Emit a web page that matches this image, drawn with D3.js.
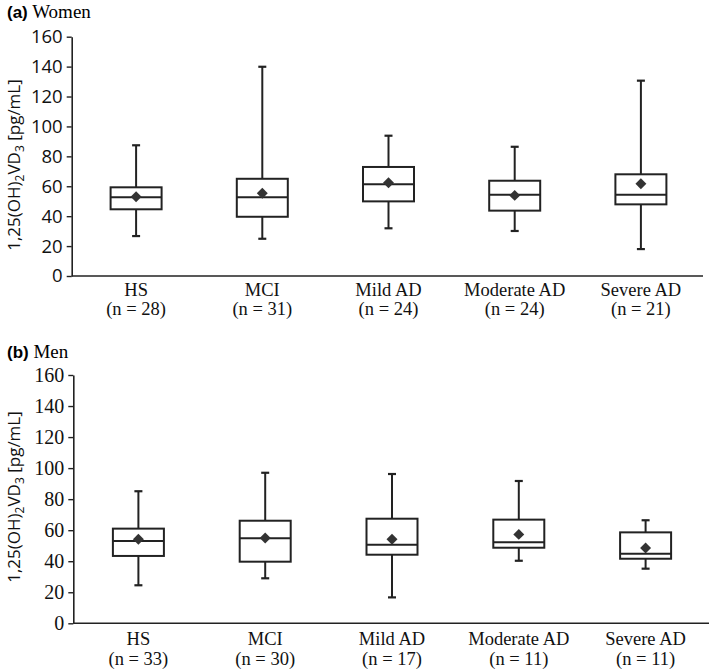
<!DOCTYPE html>
<html>
<head>
<meta charset="utf-8">
<script src="https://cdn.jsdelivr.net/npm/d3@7"></script>
<style>
  html, body { margin: 0; padding: 0; background: #fff; }
  svg { display: block; }
</style>
</head>
<body>
<svg id="chart" width="709" height="672"></svg>
<script>
// ---- Data ----
const categories = ["HS", "MCI", "Mild AD", "Moderate AD", "Severe AD"];
const yTicks = [0, 20, 40, 60, 80, 100, 120, 140, 160];

// Women (panel a)
const womenN      = [28, 31, 24, 24, 21];
const womenMin    = [26.7, 24.9, 31.9, 30.1, 18.0];
const womenQ1     = [44.6, 39.6, 49.9, 43.7, 47.9];
const womenMedian = [52.6, 52.6, 61.3, 54.3, 54.3];
const womenQ3     = [59.3, 65.0, 72.9, 63.7, 68.0];
const womenMax    = [87.4, 139.9, 93.8, 86.4, 130.6];
const womenMean   = [53.0, 55.3, 62.4, 53.9, 61.7];

// Men (panel b)
const menN      = [33, 30, 17, 11, 11];
const menMin    = [24.5, 29.0, 16.7, 40.3, 35.2];
const menQ1     = [43.4, 39.7, 44.2, 48.7, 41.6];
const menMedian = [53.0, 54.8, 50.6, 52.2, 44.8];
const menQ3     = [61.0, 66.1, 67.4, 66.8, 58.6];
const menMax    = [85.1, 97.0, 96.2, 91.7, 66.4];
const menMean   = [54.1, 55.0, 54.1, 57.3, 48.5];

const svg = d3.select("#chart");

function build(arrN, mn, q1, md, q3, mx, mean) {
  return categories.map((c, i) => ({
    cat: c, n: arrN[i], min: mn[i], q1: q1[i], med: md[i], q3: q3[i], max: mx[i], mean: mean[i]
  }));
}

function panel(opts) {
  const data = build(...opts.series);
  const g = svg.append("g");
  const y = d3.scaleLinear().domain([0, 160]).range([opts.y0, opts.y160]);
  const x = d3.scaleBand().domain(categories).range(opts.xRange).paddingInner(0).paddingOuter(0);
  const boxW = 51;

  // Title
  const t = g.append("text").attr("x", 7).attr("y", opts.titleY);
  t.append("tspan").attr("font-family", "Liberation Sans, Arial, sans-serif")
    .attr("font-weight", "bold").attr("font-size", 17).text(opts.tag);
  t.append("tspan").attr("font-family", "Liberation Serif, Times New Roman, serif")
    .attr("font-size", 19).text(" " + opts.title);

  // Y axis
  const yAxis = d3.axisLeft(y).tickValues(yTicks).tickSize(5).tickSizeOuter(0).tickPadding(4);
  const ya = g.append("g").attr("transform", `translate(${opts.axisX},0)`).call(yAxis);
  ya.select(".domain").attr("stroke", "#222").attr("stroke-width", 1.6);
  ya.selectAll(".tick line").attr("stroke", "#222").attr("stroke-width", 1.4);
  ya.selectAll(".tick text").attr("fill", "#111")
    .attr("font-family", opts.tickFont).attr("font-size", opts.tickSize);

  // X axis line
  g.append("line").attr("x1", opts.axisX).attr("x2", opts.axisEnd)
    .attr("y1", y(0)).attr("y2", y(0)).attr("stroke", "#222").attr("stroke-width", 1.6);

  // Category labels (two lines each)
  const cx = d => x(d.cat) + x.bandwidth() / 2;
  const catFont = "Liberation Serif, Times New Roman, serif";
  g.selectAll(".cl1").data(data).enter().append("text")
    .attr("text-anchor", "middle").attr("font-family", catFont)
    .attr("font-size", 18.5).attr("fill", "#111")
    .attr("x", cx).attr("y", opts.catY1).text(d => d.cat);
  g.selectAll(".cl2").data(data).enter().append("text")
    .attr("text-anchor", "middle").attr("font-family", catFont)
    .attr("font-size", 18.5).attr("fill", "#111")
    .attr("x", cx).attr("y", opts.catY2).text(d => `(n = ${d.n})`);

  // Y label
  const yl = g.append("text")
    .attr("transform", `translate(${opts.labelX},${opts.labelY}) rotate(-90)`)
    .attr("text-anchor", "middle")
    .attr("font-family", "Open Sans, Noto Sans, sans-serif")
    .attr("font-size", 17).attr("fill", "#111");
  yl.append("tspan").text("1,25(OH)");
  yl.append("tspan").attr("font-size", 12).attr("dy", 4).text("2");
  yl.append("tspan").attr("dy", -4).text("VD");
  yl.append("tspan").attr("font-size", 12).attr("dy", 4).text("3");
  yl.append("tspan").attr("dy", -4).text(" [pg/mL]");

  // Boxes
  const bx = g.selectAll(".box").data(data).enter().append("g")
    .attr("transform", d => `translate(${cx(d)},0)`);
  const stroke = "#222";
  bx.append("line").attr("x1", 0).attr("x2", 0).attr("y1", d => y(d.max)).attr("y2", d => y(d.q3))
    .attr("stroke", stroke).attr("stroke-width", 2);
  bx.append("line").attr("x1", 0).attr("x2", 0).attr("y1", d => y(d.q1)).attr("y2", d => y(d.min))
    .attr("stroke", stroke).attr("stroke-width", 2);
  bx.append("line").attr("x1", -4).attr("x2", 4).attr("y1", d => y(d.max)).attr("y2", d => y(d.max))
    .attr("stroke", stroke).attr("stroke-width", 2.2);
  bx.append("line").attr("x1", -4).attr("x2", 4).attr("y1", d => y(d.min)).attr("y2", d => y(d.min))
    .attr("stroke", stroke).attr("stroke-width", 2.2);
  bx.append("rect").attr("x", -boxW / 2).attr("width", boxW)
    .attr("y", d => y(d.q3)).attr("height", d => y(d.q1) - y(d.q3))
    .attr("fill", "#fff").attr("stroke", stroke).attr("stroke-width", 2);
  bx.append("line").attr("x1", -boxW / 2).attr("x2", boxW / 2)
    .attr("y1", d => y(d.med)).attr("y2", d => y(d.med))
    .attr("stroke", stroke).attr("stroke-width", 2);
  const sym = d3.symbol().type(d3.symbolSquare).size(60);
  bx.append("path").attr("d", sym)
    .attr("transform", d => `translate(0,${y(d.mean)}) rotate(45)`)
    .attr("fill", "#333");
}

panel({
  series: [womenN, womenMin, womenQ1, womenMedian, womenQ3, womenMax, womenMean],
  tag: "(a)", title: "Women", titleY: 18,
  y0: 276, y160: 36.7, axisX: 71.7, axisEnd: 703, xRange: [73, 704],
  tickFont: "Open Sans, Noto Sans, sans-serif", tickSize: 18.5,
  catY1: 296, catY2: 315, labelX: 20, labelY: 165
});

panel({
  series: [menN, menMin, menQ1, menMedian, menQ3, menMax, menMean],
  tag: "(b)", title: "Men", titleY: 358,
  y0: 623.3, y160: 375, axisX: 73.3, axisEnd: 709, xRange: [75, 709],
  tickFont: "Liberation Serif, Times New Roman, serif", tickSize: 20,
  catY1: 645, catY2: 665, labelX: 20, labelY: 497
});
</script>
</body>
</html>
